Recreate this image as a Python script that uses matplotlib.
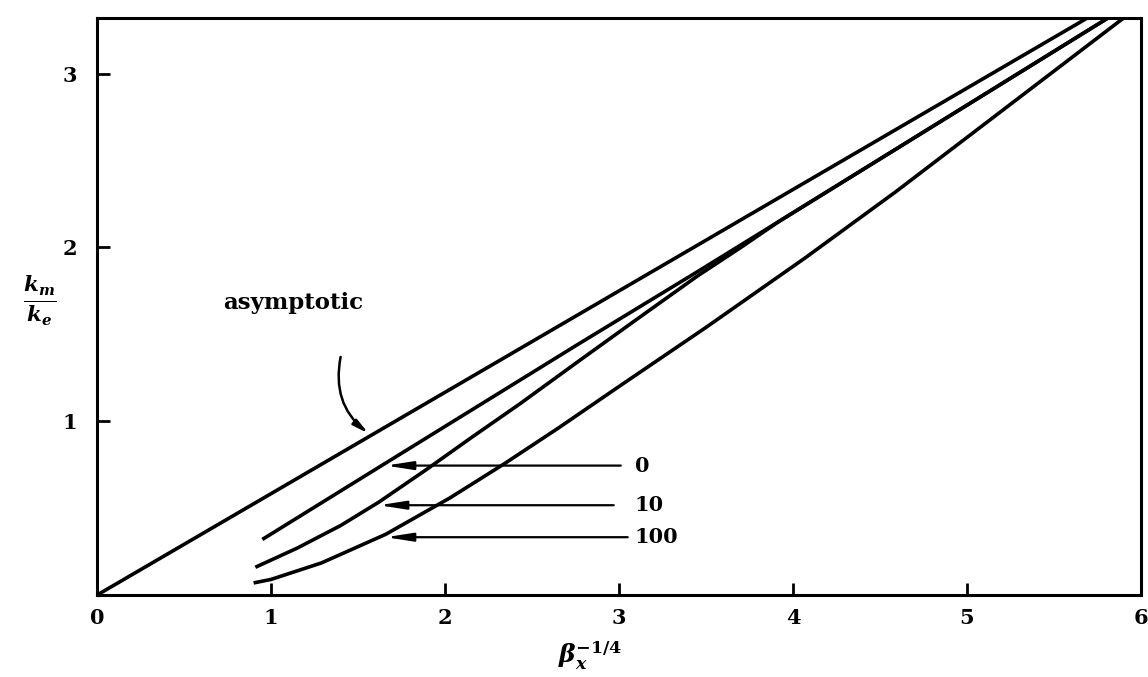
import matplotlib.pyplot as plt

# values
asym_x = [0.0, 6.0]
asym_y = [0.0, 3.50]

c0_x = [0.95, 1.66, 2.76, 3.45, 3.92, 5.81]
c0_y = [0.32, 0.76, 1.44, 1.86, 2.15, 3.32]

c10_x = [0.91, 1.15, 1.40, 1.62, 1.89, 2.15, 2.43, 2.76, 3.10, 3.45, 3.70, 3.92, 5.81]
c10_y = [0.16, 0.27, 0.40, 0.535, 0.72, 0.905, 1.10, 1.34, 1.585, 1.835, 2.00, 2.15, 3.32]

c100_x = [0.90, 1.00, 1.29, 1.66, 2.03, 2.34, 2.65, 3.00, 3.50, 4.07, 4.59, 5.90]
c100_y = [0.07, 0.09, 0.185, 0.35, 0.56, 0.755, 0.96, 1.20, 1.54, 1.94, 2.32, 3.32]

# parameter labels: (text, arrow y, tip x, tail x)
labels = [("0", 0.745, 1.66, 3.01),
          ("10", 0.517, 1.62, 2.97),
          ("100", 0.333, 1.66, 3.05)]

xticks = [0, 1, 2, 3, 4, 5, 6]
yticks = [1, 2, 3]

plt.rcParams['font.family'] = ['DejaVu Serif']
plt.rcParams['font.weight'] = 'bold'
plt.rcParams['mathtext.fontset'] = 'dejavuserif'

fig = plt.figure(figsize=(11.48, 6.77), dpi=100)
ax = fig.add_axes([0.0845, 0.121, 0.9094, 0.8524])

for xs, ys in [(asym_x, asym_y), (c0_x, c0_y), (c10_x, c10_y), (c100_x, c100_y)]:
    ax.plot(xs, ys, color='black', lw=2.6, solid_capstyle='butt',
            solid_joinstyle='round')

for txt, yy, tip, tail in labels:
    ax.annotate("", xy=(tip, yy), xytext=(tail, yy),
                arrowprops=dict(arrowstyle='-|>,head_length=1.6,head_width=0.25',
                                color='black', lw=1.6, shrinkA=0, shrinkB=0))
    ax.text(3.09, yy, txt, fontsize=15, fontweight='bold',
            ha='left', va='center')

ax.text(1.13, 1.68, "asymptotic", fontsize=16.5, fontweight='bold',
        ha='center', va='center')
ax.annotate("", xy=(1.56, 0.93), xytext=(1.40, 1.37),
            arrowprops=dict(arrowstyle='-|>,head_length=0.9,head_width=0.2',
                            color='black', lw=1.8, shrinkA=0, shrinkB=0,
                            connectionstyle='arc3,rad=0.3'))

ax.set_xlim(0, 6)
ax.set_ylim(0, 3.32)
ax.set_xticks(xticks)
ax.set_yticks(yticks)
ax.tick_params(direction='in', length=9, width=2, labelsize=15)
ax.tick_params(axis='x', pad=9)
ax.tick_params(axis='y', pad=14)
for s in ax.spines.values():
    s.set_linewidth(2.2)

ax.text(-0.055, 0.51, r'$\frac{\mathbfit{k}_{\mathbfit{m}}}{\mathbfit{k}_{\mathbfit{e}}}$',
        transform=ax.transAxes, fontsize=22, ha='center', va='center')
ax.text(0.472, -0.105, r'$\mathbfit{\beta}_{\mathbfit{x}}^{\mathbf{-1/4}}$',
        transform=ax.transAxes, fontsize=18, ha='center', va='center')

plt.savefig("out.png", dpi=100)
